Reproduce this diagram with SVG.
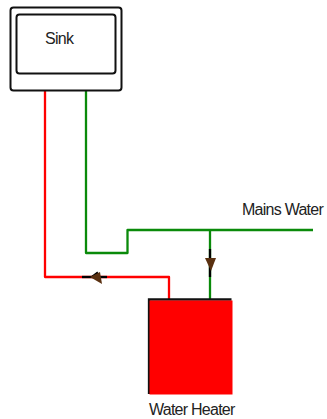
<svg xmlns="http://www.w3.org/2000/svg" width="327" height="419" viewBox="0 0 327 419">
<style>
.o{fill:#fff;stroke:#111;stroke-width:2}
.p{fill:none;stroke-width:2.300;stroke-linejoin:round}
.r{stroke:#ff0000}
.g{stroke:#0a8a0a}
.k{fill:none;stroke:#000;stroke-width:2.300}
.a{fill:#5a3010}
text{font-family:"Liberation Sans",Arial,sans-serif;font-size:16px;fill:#222;letter-spacing:-.75px}
</style>
<g id="connectors">
<path class="p r" d="M45 91V277H169V299"/>
<path class="p g" d="M86 91V253H127.500V230H313"/>
<path class="p g" d="M210 230V299"/>
<g id="valve-hot"><path class="k" d="M82 277H107"/><path class="k" d="M92 277L98 272.500"/><path class="a" d="M90 277L100 272L102 284Z"/></g>
<g id="valve-cold"><path class="k" d="M210 249V277"/><path class="a" d="M205 258H216L211 271Z"/></g>
</g>
<g id="sink">
<rect class="o" x="10.500" y="7.500" width="111" height="83" rx="3"/>
<rect class="o" x="16.500" y="14.500" width="99" height="59" rx="3"/>
<text x="45" y="44">Sink</text>
</g>
<g id="water-heater">
<path d="M149 394V299.500H231.500" fill="none" stroke="#111" stroke-width="2.300"/>
<rect x="149.500" y="300.500" width="83" height="94" fill="#ff0000"/>
<text x="149" y="415">Water Heater</text>
</g>
<g id="mains-water"><text x="242" y="214.500">Mains Water</text></g>
</svg>
